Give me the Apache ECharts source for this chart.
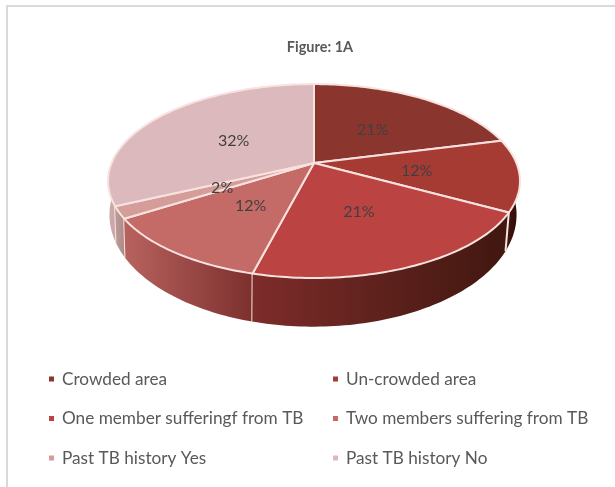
<!DOCTYPE html>
<html>
<head>
<meta charset="utf-8">
<style>
  html, body { margin: 0; padding: 0; background: #fff; }
  #chart { width: 615px; height: 487px; }
</style>
<script src="https://cdn.jsdelivr.net/npm/echarts@6/dist/echarts.min.js"></script>
</head>
<body>
<div id="chart"></div>
<script>
const categories = ['Crowded area', 'Un-crowded area', 'One member sufferingf from TB', 'Two members suffering from TB', 'Past TB history Yes', 'Past TB history No'];
const shares = [21, 12, 21, 12, 2, 32];
const topColors = ['#8b352f', '#a63b34', '#bb4341', '#c46a67', '#d59d9a', '#dcb9bc'];
const sideLeft = ['#6b2723', '#4a1a14', '#7d2c2a', '#b8625e', '#bd9a98', '#cba9aa'];
const sideRight = ['#6b2723', '#2d0c08', '#40170f', '#7c302e', '#a98a88', '#b99597'];

// fake 3d: circle -> perspective ellipse, same numbers used for top and bottom rim
const cx = 314, cxBottom = 313, topY = 163, bottomY = 194;
const A = 202.4, B = 93.6, A2 = 200, B2 = 108, k = 0.186;
const rimColor = '#f8e2df';
const total = shares.reduce((a, b) => a + b, 0);

function project(theta, r, x0, y0, a, b) {
  const u = Math.sin(theta) * r;
  const v = -Math.cos(theta) * r;
  const w = 1 - k * v;
  return [x0 + a * u / w, y0 + b * v / w];
}
function angleOf(sum) {
  return sum / total * Math.PI * 2;
}
function arc(from, to, x0, y0, a, b) {
  const pts = [];
  const n = Math.max(2, Math.ceil((to - from) / 0.02));
  for (let i = 0; i <= n; i++) {
    pts.push(project(from + (to - from) * i / n, 1, x0, y0, a, b));
  }
  return pts;
}

let running = 0;
const starts = shares.map(s => { const c = running; running += s; return c; });

function renderTop(index, params, api) {
  const from = angleOf(starts[index]);
  const to = angleOf(starts[index] + api.value(0));
  const points = [[cx, topY]].concat(arc(from, to, cx, topY, A, B));
  const mid = project((from + to) / 2, 0.5, cx, topY, A, B);
  return {
    type: 'group',
    children: [
      {
        type: 'polygon',
        shape: { points: points },
        style: { fill: topColors[index], stroke: rimColor, lineWidth: 2, lineJoin: 'round' }
      },
      {
        type: 'text',
        z2: 100,
        style: {
          x: mid[0] + 1, y: mid[1] + 1.5, text: api.value(0) + '%',
          fill: '#404040', font: '16px Lato', align: 'center', verticalAlign: 'middle'
        }
      }
    ]
  };
}

function renderSide(index, params, api) {
  const from = angleOf(starts[index]);
  const to = angleOf(starts[index] + api.value(0));
  const upper = arc(from, to, cx, topY, A, B);
  const lower = arc(from, to, cxBottom, bottomY, A2, B2);
  const children = [{
    type: 'polygon',
    shape: { points: upper.concat(lower.reverse()) },
    style: {
      fill: new echarts.graphic.LinearGradient(0, 0, 1, 0, [
        { offset: 0, color: sideLeft[index] },
        { offset: 1, color: sideRight[index] }
      ])
    }
  }];
  // seam at the start of the slice, only on the near half of the pie
  if (-Math.cos(from) > 0) {
    const a = project(from, 1, cx, topY, A, B);
    const b = project(from, 1, cxBottom, bottomY, A2, B2);
    children.push({
      type: 'line',
      z2: 5,
      shape: { x1: a[0], y1: a[1], x2: b[0], y2: b[1] },
      style: { stroke: rimColor, lineWidth: 2 }
    });
  }
  return { type: 'group', children: children };
}

// near slices last so they overlap the far ones
const sideOrder = shares.map((s, i) => i).sort((p, q) => {
  const vp = -Math.cos(angleOf(starts[p] + shares[p] / 2));
  const vq = -Math.cos(angleOf(starts[q] + shares[q] / 2));
  return vp - vq;
});

const series = [];
sideOrder.forEach((i, order) => {
  series.push({
    type: 'custom', name: categories[i], coordinateSystem: 'none', z: 2 + order,
    itemStyle: { color: topColors[i] }, data: [[shares[i]]],
    renderItem: (params, api) => renderSide(i, params, api)
  });
});
shares.forEach((s, i) => {
  series.push({
    type: 'custom', name: categories[i], coordinateSystem: 'none', z: 10,
    itemStyle: { color: topColors[i] }, data: [[s]],
    renderItem: (params, api) => renderTop(i, params, api)
  });
});

function legendColumn(left, start) {
  return {
    orient: 'vertical', left: left, top: 370, padding: 0,
    icon: 'rect', itemWidth: 5, itemHeight: 5, itemGap: 21.5,
    selectedMode: false,
    textStyle: { fontFamily: 'Lato', fontSize: 17.2, lineHeight: 18, color: '#595959', padding: [0, 0, 0, 3] },
    data: [0, 2, 4].map(i => categories[i + start])
  };
}

const chart = echarts.init(document.getElementById('chart'));
chart.setOption({
  animation: false,
  backgroundColor: '#fff',
  title: {
    text: 'Figure: 1A', left: 315, top: 35, textAlign: 'center',
    textStyle: { fontFamily: 'Lato', fontSize: 14.5, fontWeight: 'bold', color: '#595959' }
  },
  legend: [legendColumn(49, 0), legendColumn(333, 1)],
  graphic: [{
    type: 'rect', silent: true, z: 0,
    shape: { x: 7, y: 6, width: 700, height: 600 },
    style: { fill: 'transparent', stroke: '#d9d9d9', lineWidth: 2 }
  }],
  series: series
});
</script>
</body>
</html>
